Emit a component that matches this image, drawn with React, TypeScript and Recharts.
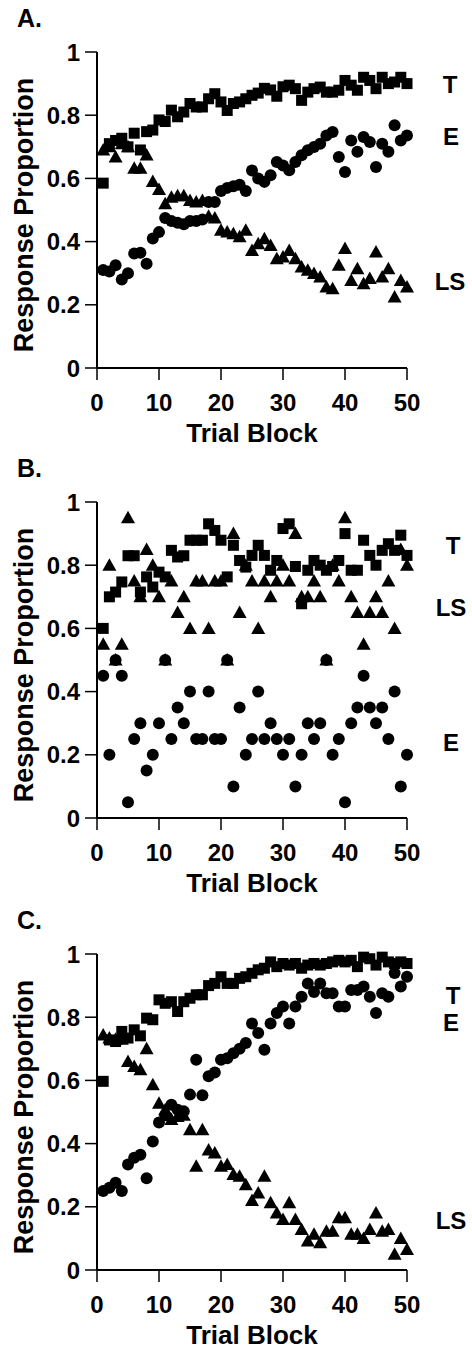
import React from "react";
import { ScatterChart, Scatter, XAxis, YAxis } from "recharts";

// trial blocks 1..50
const blocks = [
  1, 2, 3, 4, 5, 6, 7, 8, 9, 10, 11, 12, 13, 14, 15, 16, 17, 18, 19, 20, 21, 22, 23, 24, 25,
  26, 27, 28, 29, 30, 31, 32, 33, 34, 35, 36, 37, 38, 39, 40, 41, 42, 43, 44, 45, 46, 47, 48, 49, 50,
];

const xTicks = [0, 10, 20, 30, 40, 50];
const yTicks = [0, 0.2, 0.4, 0.6, 0.8, 1];

// Panel A
const aTarget = [
  0.585, 0.71, 0.72, 0.727, 0.7, 0.743, 0.69, 0.748, 0.753, 0.785, 0.78, 0.816, 0.795, 0.81, 0.837,
  0.826, 0.826, 0.852, 0.868, 0.842, 0.815, 0.837, 0.842, 0.852, 0.863, 0.87, 0.885, 0.88, 0.86, 0.89,
  0.895, 0.884, 0.847, 0.873, 0.884, 0.889, 0.873, 0.873, 0.879, 0.91, 0.895, 0.879, 0.92, 0.91, 0.884,
  0.92, 0.9, 0.905, 0.92, 0.9,
];
const aExemplar = [
  0.31, 0.305, 0.325, 0.28, 0.3, 0.362, 0.365, 0.33, 0.41, 0.43, 0.475, 0.465, 0.46, 0.455, 0.465,
  0.465, 0.47, 0.525, 0.525, 0.56, 0.57, 0.575, 0.58, 0.56, 0.625, 0.6, 0.589, 0.61, 0.652, 0.641,
  0.626, 0.652, 0.673, 0.689, 0.699, 0.71, 0.736, 0.747, 0.668, 0.62, 0.72, 0.684, 0.731, 0.715, 0.636,
  0.71, 0.684, 0.768, 0.72, 0.736,
];
const aLS = [
  0.69, 0.7, 0.668, 0.71, 0.7, 0.632, 0.632, 0.674, 0.59, 0.565, 0.52, 0.54, 0.545, 0.545, 0.53,
  0.525, 0.53, 0.48, 0.475, 0.436, 0.43, 0.425, 0.415, 0.436, 0.372, 0.393, 0.409, 0.388, 0.346, 0.351,
  0.372, 0.346, 0.32, 0.309, 0.299, 0.288, 0.256, 0.251, 0.325, 0.378, 0.277, 0.314, 0.267, 0.283, 0.367,
  0.288, 0.314, 0.225, 0.277, 0.256,
];

// Panel B
const bTarget = [
  0.6, 0.7, 0.715, 0.747, 0.83, 0.83, 0.715, 0.763, 0.731, 0.778, 0.763, 0.847, 0.826, 0.83, 0.879,
  0.879, 0.879, 0.931, 0.91, 0.879, 0.763, 0.863, 0.815, 0.794, 0.831, 0.863, 0.831, 0.784, 0.815, 0.916,
  0.931, 0.796, 0.678, 0.784, 0.815, 0.8, 0.784, 0.796, 0.815, 0.9, 0.784, 0.784, 0.879, 0.831, 0.8,
  0.847, 0.868, 0.847, 0.895, 0.831,
];
const bExemplar = [
  0.45, 0.2, 0.5, 0.45, 0.05, 0.25, 0.3, 0.15, 0.2, 0.3, 0.5, 0.25, 0.35, 0.3, 0.4,
  0.25, 0.25, 0.4, 0.25, 0.25, 0.5, 0.1, 0.35, 0.2, 0.25, 0.4, 0.25, 0.3, 0.25, 0.2,
  0.25, 0.1, 0.2, 0.3, 0.25, 0.3, 0.5, 0.2, 0.25, 0.05, 0.3, 0.35, 0.45, 0.35, 0.3,
  0.35, 0.25, 0.4, 0.1, 0.2,
];
const bLS = [
  0.55, 0.8, 0.5, 0.55, 0.95, 0.75, 0.7, 0.85, 0.8, 0.7, 0.5, 0.75, 0.65, 0.7, 0.6,
  0.75, 0.75, 0.6, 0.75, 0.75, 0.5, 0.9, 0.65, 0.8, 0.75, 0.6, 0.75, 0.7, 0.75, 0.8,
  0.75, 0.9, 0.7, 0.7, 0.75, 0.7, 0.5, 0.8, 0.75, 0.95, 0.7, 0.65, 0.55, 0.65, 0.7,
  0.65, 0.75, 0.6, 0.85, 0.8,
];

// Panel C
const cTarget = [
  0.597, 0.728, 0.723, 0.755, 0.734, 0.76, 0.741, 0.797, 0.792, 0.855, 0.844, 0.849, 0.818, 0.849, 0.86,
  0.871, 0.871, 0.9, 0.907, 0.928, 0.907, 0.907, 0.923, 0.928, 0.939, 0.95, 0.955, 0.975, 0.96, 0.97,
  0.965, 0.97, 0.955, 0.965, 0.97, 0.965, 0.97, 0.975, 0.98, 0.975, 0.98, 0.96, 0.99, 0.985, 0.965,
  0.99, 0.975, 0.97, 0.975, 0.97,
];
const cExemplar = [
  0.25, 0.26, 0.276, 0.25, 0.334, 0.355, 0.365, 0.29, 0.407, 0.467, 0.49, 0.523, 0.507, 0.502, 0.555,
  0.665, 0.553, 0.613, 0.625, 0.665, 0.67, 0.686, 0.7, 0.718, 0.78, 0.75, 0.697, 0.78, 0.813, 0.834,
  0.78, 0.834, 0.865, 0.907, 0.88, 0.907, 0.876, 0.876, 0.834, 0.834, 0.886, 0.886, 0.897, 0.865, 0.813,
  0.876, 0.865, 0.94, 0.897, 0.928,
];
const cLS = [
  0.744, 0.734, 0.73, 0.73, 0.66, 0.644, 0.634, 0.7, 0.586, 0.528, 0.507, 0.476, 0.486, 0.49, 0.444,
  0.328, 0.444, 0.38, 0.37, 0.328, 0.334, 0.302, 0.297, 0.27, 0.22, 0.244, 0.297, 0.213, 0.18, 0.16,
  0.213, 0.16, 0.128, 0.092, 0.113, 0.086, 0.123, 0.123, 0.165, 0.165, 0.113, 0.113, 0.1, 0.128, 0.18,
  0.123, 0.128, 0.05, 0.1, 0.065,
];

const FONT = "'Liberation Sans', Arial, Helvetica, sans-serif";

const toPoints = (vals: number[]) => blocks.map((b, i) => ({ x: b, y: vals[i] }));

const SquareDot = (p: any) => <rect x={p.cx - 5.5} y={p.cy - 5.5} width={11} height={11} fill="#000" />;
const CircleDot = (p: any) => <circle cx={p.cx} cy={p.cy} r={6} fill="#000" />;
const TriangleDot = (p: any) => (
  <polygon points={`${p.cx},${p.cy - 7} ${p.cx - 7},${p.cy + 5.5} ${p.cx + 7},${p.cy + 5.5}`} fill="#000" />
);

interface Tag {
  text: string;
  x: number;
  y: number;
}

interface PanelProps {
  letter: string;
  top: number;
  target: number[];
  exemplar: number[];
  ls: number[];
  tags: Tag[];
}

const W = 472;
const H = 450;

const Panel: React.FC<PanelProps> = ({ letter, top, target, exemplar, ls, tags }) => {
  const tickStyle = { fill: "#000", fontSize: 24, fontWeight: 700, fontFamily: FONT };
  return (
    <div style={{ position: "absolute", left: 0, top, width: W, height: H }}>
      <ScatterChart width={W} height={H} margin={{ top: 52, right: 65, bottom: 0, left: 0 }}>
        <XAxis
          type="number"
          dataKey="x"
          domain={[0, 50]}
          ticks={xTicks}
          interval={0}
          height={82}
          tickSize={12}
          tickMargin={14}
          axisLine={{ stroke: "#000", strokeWidth: 2 }}
          tickLine={{ stroke: "#000", strokeWidth: 1.5 }}
          tick={tickStyle}
          label={(props: any) => {
            const vb = props.viewBox || { x: 97, y: 368, width: 310 };
            return (
              <text x={vb.x + vb.width / 2} y={vb.y + 74} textAnchor="middle" fontSize={26} fontWeight={700} fontFamily={FONT} fill="#000">
                Trial Block
              </text>
            );
          }}
        />
        <YAxis
          type="number"
          dataKey="y"
          domain={[0, 1]}
          ticks={yTicks}
          interval={0}
          width={97}
          tickSize={12}
          tickMargin={5}
          axisLine={{ stroke: "#000", strokeWidth: 2 }}
          tickLine={{ stroke: "#000", strokeWidth: 1.5 }}
          tick={tickStyle}
          tickFormatter={(v: number) => (v === 0 || v === 1 ? String(v) : v.toFixed(1))}
          label={() => (
            <text x={33} y={215} transform="rotate(-90 33 215)" textAnchor="middle" fontSize={27} fontWeight={700} fontFamily={FONT} fill="#000">
              Response Proportion
            </text>
          )}
        />
        <Scatter data={toPoints(target)} shape={SquareDot} isAnimationActive={false} />
        <Scatter data={toPoints(exemplar)} shape={CircleDot} isAnimationActive={false} />
        <Scatter data={toPoints(ls)} shape={TriangleDot} isAnimationActive={false} />
      </ScatterChart>
      <svg width={W} height={H} style={{ position: "absolute", left: 0, top: 0, pointerEvents: "none" }}>
        <text x={17} y={27} fontSize={25} fontWeight={700} fontFamily={FONT} fill="#000">
          {letter}
        </text>
        {tags.map((t) => (
          <text key={t.text} x={t.x} y={t.y} textAnchor="middle" fontSize={24} fontWeight={700} fontFamily={FONT} fill="#000">
            {t.text}
          </text>
        ))}
      </svg>
    </div>
  );
};

export default function App() {
  return (
    <div style={{ position: "absolute", left: 0, top: 0, width: W, height: 1357, background: "#fff" }}>
      <Panel
        letter="A."
        top={0}
        target={aTarget}
        exemplar={aExemplar}
        ls={aLS}
        tags={[
          { text: "T", x: 450, y: 93 },
          { text: "E", x: 451, y: 145 },
          { text: "LS", x: 450, y: 290 },
        ]}
      />
      <Panel
        letter="B."
        top={450}
        target={bTarget}
        exemplar={bExemplar}
        ls={bLS}
        tags={[
          { text: "T", x: 453, y: 104 },
          { text: "LS", x: 451, y: 166 },
          { text: "E", x: 451, y: 301 },
        ]}
      />
      <Panel
        letter="C."
        top={902}
        target={cTarget}
        exemplar={cExemplar}
        ls={cLS}
        tags={[
          { text: "T", x: 453, y: 102 },
          { text: "E", x: 451, y: 129 },
          { text: "LS", x: 451, y: 327 },
        ]}
      />
    </div>
  );
}
